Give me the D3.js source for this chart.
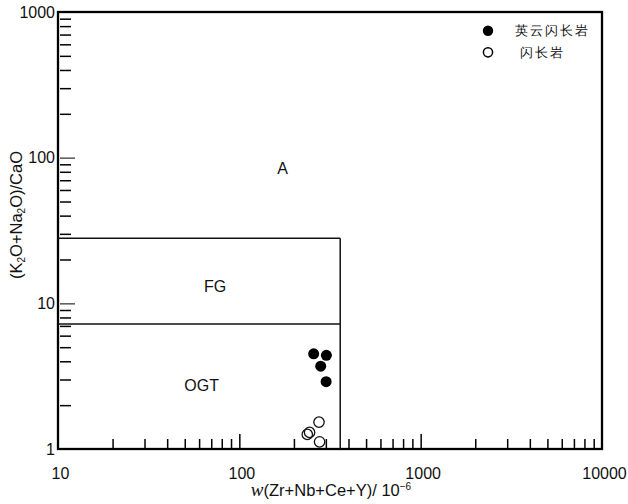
<!DOCTYPE html>
<html lang="zh">
<head>
    <meta charset="UTF-8">
    <title>Whalen diagram</title>
    <script src="https://d3js.org/d3.v7.min.js"></script>
    <style>
        body { margin: 0; background: #fff; }
        text { font-family: "Liberation Sans", Arial, sans-serif; fill: #111; }
    </style>
</head>
<body>

    <svg width="628" height="504"></svg>

</body>

<script>

    // 样品数据  w(Zr+Nb+Ce+Y) / (K2O+Na2O)/CaO
    var yingyunX = [257, 302, 281, 301];      // 英云闪长岩
    var yingyunY = [4.5, 4.4, 3.7, 2.9];
    var shanchangX = [275, 244, 237, 277];    // 闪长岩
    var shanchangY = [1.53, 1.30, 1.26, 1.12];

    var seriesNames = ['英云闪长岩', '闪长岩'];

    // 分区界线
    var zrLimit = 360;
    var fgTop = 28;
    var ogtTop = 7.2;

    // 分区名称
    var fieldNames = ['A', 'FG', 'OGT'];
    var fieldX = [173, 73.5, 62];
    var fieldY = [84.5, 13, 2.72];

    var xTicks = [10, 100, 1000, 10000];
    var yTicks = [1, 10, 100, 1000];

    var svg = d3.select('svg');
    var pLeft = 58, pRight = 602, pTop = 12, pBottom = 449;

    var x = d3.scaleLog().domain([10, 10000]).range([pLeft, pRight]);
    var y = d3.scaleLog().domain([1, 1000]).range([pBottom, pTop]);

    // 次刻度 (1..9 每个数量级)
    var xMinor = x.ticks().filter(function (d) { return xTicks.indexOf(d) < 0; });
    var yMinor = y.ticks().filter(function (d) { return yTicks.indexOf(d) < 0; });

    // x 轴：刻度朝内
    var gx = svg.append('g').attr('transform', 'translate(0,' + pBottom + ')');
    gx.call(d3.axisBottom(x).tickValues(xMinor).tickSize(-10).tickFormat(''));
    var gx2 = svg.append('g').attr('transform', 'translate(0,' + pBottom + ')');
    gx2.call(d3.axisBottom(x).tickValues(xTicks).tickSize(-15).tickPadding(19)
        .tickFormat(d3.format('d')));
    gx2.selectAll('text').attr('dx', 2);

    // y 轴：刻度朝内，与轴线留一点空隙
    var gy = svg.append('g').attr('transform', 'translate(' + pLeft + ',0)');
    gy.call(d3.axisLeft(y).tickValues(yMinor).tickSize(-13).tickFormat(''));
    gy.selectAll('line').attr('x1', 2);
    var gy2 = svg.append('g').attr('transform', 'translate(' + pLeft + ',0)');
    gy2.call(d3.axisLeft(y).tickValues(yTicks).tickSize(-17).tickPadding(3)
        .tickFormat(d3.format('d')));
    gy2.selectAll('line').attr('x1', 2).attr('stroke', '#555');

    [gx, gx2, gy, gy2].forEach(function (g) {
        g.select('.domain').remove();
        g.selectAll('line').attr('stroke-width', 1.5);
        g.selectAll('text').attr('font-size', 16).attr('fill', '#111')
            .attr('font-family', '"Liberation Sans", Arial, sans-serif');
    });
    gx2.selectAll('.tick').filter(function (d) { return d === 10 || d === 10000; })
        .select('line').remove();
    gy2.selectAll('.tick').filter(function (d) { return d === 1 || d === 1000; })
        .select('line').remove();

    // 边框
    svg.append('rect')
        .attr('x', pLeft).attr('y', pTop)
        .attr('width', pRight - pLeft).attr('height', pBottom - pTop)
        .attr('fill', 'none').attr('stroke', '#000').attr('stroke-width', 2.3);

    // 分区线
    var lines = svg.append('g').attr('stroke', '#111').attr('stroke-width', 1.5);
    lines.append('line')
        .attr('x1', x(zrLimit)).attr('x2', x(zrLimit))
        .attr('y1', y(1)).attr('y2', y(fgTop));
    [fgTop, ogtTop].forEach(function (v) {
        lines.append('line')
            .attr('x1', x(10)).attr('x2', x(zrLimit))
            .attr('y1', y(v)).attr('y2', y(v));
    });

    svg.selectAll('.field').data(fieldNames).enter().append('text')
        .attr('class', 'field')
        .attr('x', function (d, i) { return x(fieldX[i]); })
        .attr('y', function (d, i) { return y(fieldY[i]); })
        .attr('dy', '0.35em')
        .attr('text-anchor', 'middle')
        .attr('font-size', 16)
        .text(function (d) { return d; });

    // 样品点
    svg.selectAll('.fill').data(yingyunX).enter().append('circle')
        .attr('cx', function (d) { return x(d); })
        .attr('cy', function (d, i) { return y(yingyunY[i]); })
        .attr('r', 5.5).attr('fill', '#000');
    svg.selectAll('.open').data(shanchangX).enter().append('circle')
        .attr('cx', function (d) { return x(d); })
        .attr('cy', function (d, i) { return y(shanchangY[i]); })
        .attr('r', 5.2).attr('fill', 'none').attr('stroke', '#111').attr('stroke-width', 1.3);

    // 图例
    var lg = svg.append('g');
    seriesNames.forEach(function (name, i) {
        var cy = 30.7 + i * 21.6;
        lg.append('circle').attr('cx', 488).attr('cy', cy).attr('r', i ? 4.6 : 5.2)
            .attr('fill', i ? 'none' : '#000')
            .attr('stroke', '#000').attr('stroke-width', i ? 1.5 : 0);
        lg.append('text').attr('x', i ? 520 : 515).attr('y', cy).attr('dy', '0.36em')
            .attr('font-family', '"Noto Sans CJK SC", sans-serif')
            .attr('font-size', 13).attr('letter-spacing', 1.9)
            .text(name);
    });

    // 坐标轴标题
    var yl = svg.append('text')
        .attr('transform', 'translate(22,215) rotate(-90)')
        .attr('text-anchor', 'middle').attr('font-size', 16.5);
    yl.append('tspan').text('(K');
    yl.append('tspan').attr('font-size', 10).attr('baseline-shift', '-25%').text('2');
    yl.append('tspan').text('O+Na');
    yl.append('tspan').attr('font-size', 10).attr('baseline-shift', '-25%').text('2');
    yl.append('tspan').text('O)/CaO');

    var xl = svg.append('text')
        .attr('x', 331).attr('y', 496)
        .attr('text-anchor', 'middle').attr('font-size', 16.5);
    xl.append('tspan').attr('font-family', '"Liberation Serif", serif')
        .attr('font-style', 'italic').attr('font-size', 19).text('w');
    xl.append('tspan').text('(Zr+Nb+Ce+Y)/ 10');
    xl.append('tspan').attr('font-size', 10).attr('baseline-shift', '60%').text('−6');

</script>

</html>
